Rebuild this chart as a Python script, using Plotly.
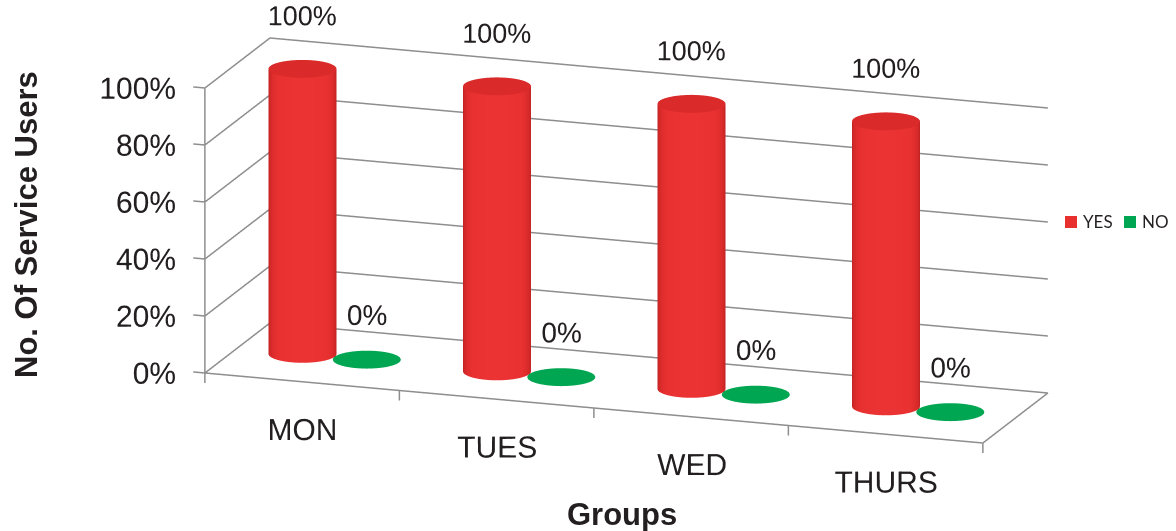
import numpy as np
import plotly.graph_objects as go

# ---- data ----
groups = ["MON", "TUES", "WED", "THURS"]
yes_pct = [100, 100, 100, 100]
no_pct = [0, 0, 0, 0]
series_names = ["YES", "NO"]
series_colors = ["#E8302E", "#00A651"]
z_ticks = [0, 20, 40, 60, 80, 100]
z_tick_text = ["0%", "20%", "40%", "60%", "80%", "100%"]

# ---- chart box (data units) ----
n = len(groups)
x_lo, x_hi = -0.5, n - 0.5
y_lo, y_hi = 0.0, 1.0
z_lo, z_hi = 0.0, 100.0
# normalised size of the chart box (orthographic: 265.5 px per unit)
box_len = dict(x=3.0968, y=0.7565, z=1.1126)
PX = 265.5

# scene ranges are padded so labels and edges are not clipped
rng = dict(x=(x_lo - 0.5, x_hi + 0.1), y=(y_lo - 0.05, y_hi + 0.05),
           z=(z_lo - 25, z_hi + 30))
span = dict(x=x_hi - x_lo, y=y_hi - y_lo, z=z_hi - z_lo)
aspect = {k: box_len[k] * (rng[k][1] - rng[k][0]) / span[k] for k in "xyz"}


def to_norm(k, v):
    lo, hi = rng[k]
    return (v - (lo + hi) / 2) / (hi - lo) * aspect[k]


radius_norm = 0.128
rx = radius_norm * span["x"] / box_len["x"]
ry = radius_norm * span["y"] / box_len["y"]
series_offset = [-rx, rx]
depth = 0.5

# screen axes in normalised scene space
r1 = np.array([0.94624, 0.32361, 0.0])
r2 = np.array([-0.08514, 0.24893, 0.96479])
view_dir = np.cross(r1, r2)
view_dir /= np.linalg.norm(view_dir)

GRID = "#8E8E8E"
TXT = "#231F20"
FONT = "Liberation Sans, Arial, sans-serif"

fig = go.Figure()

# back wall + left wall gridlines
gx, gy, gz = [], [], []
for t in z_ticks:
    gx += [x_lo, x_lo, x_hi, None]
    gy += [y_lo, y_hi, y_hi, None]
    gz += [t, t, t, None]
# floor outline and left wall front edge
gx += [x_lo, x_lo, None, x_lo, x_hi, x_hi, None]
gy += [y_lo, y_lo, None, y_lo, y_lo, y_hi, None]
gz += [z_lo, z_hi, None, z_lo, z_lo, z_lo, None]
# value-axis tick marks
for t in z_ticks:
    gx += [x_lo - 0.06, x_lo, None]
    gy += [y_lo, y_lo, None]
    gz += [t, t, None]
# category boundary tick marks
for b in np.arange(x_lo, x_hi + 0.01, 1.0):
    gx += [b, b, None]
    gy += [y_lo, y_lo, None]
    gz += [z_lo, z_lo - 3.5, None]
fig.add_trace(go.Scatter3d(x=gx, y=gy, z=gz, mode="lines",
                           line=dict(color=GRID, width=3),
                           hoverinfo="skip", showlegend=False))

theta = np.linspace(0, 2 * np.pi, 90)
rr = np.linspace(0, 1, 2)
flat_light = dict(ambient=1.0, diffuse=0.0, specular=0.0, roughness=1.0,
                  fresnel=0.0)
# side shading: how much each facet faces the viewer
hdir = view_dir[:2] / np.linalg.norm(view_dir[:2])
facing = np.clip(np.cos(theta) * hdir[0] + np.sin(theta) * hdir[1], 0, 1)
side_scale = [[0, "#B41F1F"], [0.3, "#D22828"], [0.65, "#E73030"],
              [1, "#EC3333"]]
cap_colors = ["#DA2A2A", series_colors[1]]

for s_idx, vals in enumerate([yes_pct, no_pct]):
    for i, v in enumerate(vals):
        xc = i + series_offset[s_idx]
        if v > 0:
            hz = np.array([z_lo, v])
            TH, HZ = np.meshgrid(theta, hz)
            SC = np.tile(facing, (len(hz), 1))
            fig.add_trace(go.Surface(
                x=xc + rx * np.cos(TH), y=depth + ry * np.sin(TH), z=HZ,
                surfacecolor=SC, colorscale=side_scale, cmin=0, cmax=1,
                showscale=False, hoverinfo="skip", lighting=flat_light))
        R, TH = np.meshgrid(rr, theta)
        c = cap_colors[s_idx]
        fig.add_trace(go.Surface(
            x=xc + rx * R * np.cos(TH), y=depth + ry * R * np.sin(TH),
            z=np.full_like(R, float(v)),
            surfacecolor=np.zeros_like(R), colorscale=[[0, c], [1, c]],
            cmin=0, cmax=1, showscale=False, hoverinfo="skip",
            lighting=flat_light))

# data labels
fig.add_trace(go.Scatter3d(
    x=[i + series_offset[0] for i in range(n)], y=[depth] * n,
    z=[v + 18.7 for v in yes_pct], mode="text",
    text=[f"{v}%" for v in yes_pct], textposition="middle center",
    textfont=dict(size=27, color=TXT, family=FONT),
    hoverinfo="skip", showlegend=False))
fig.add_trace(go.Scatter3d(
    x=[i + series_offset[1] for i in range(n)], y=[depth] * n,
    z=[v + 15.7 for v in no_pct], mode="text",
    text=[f"{v}%" for v in no_pct], textposition="middle center",
    textfont=dict(size=28, color=TXT, family=FONT),
    hoverinfo="skip", showlegend=False))

# value-axis labels
fig.add_trace(go.Scatter3d(
    x=[x_lo] * len(z_ticks), y=[y_lo] * len(z_ticks), z=z_ticks,
    mode="text", text=z_tick_text, textposition="middle left",
    textfont=dict(size=30, color=TXT, family=FONT),
    hoverinfo="skip", showlegend=False))

# category labels
fig.add_trace(go.Scatter3d(
    x=list(range(n)), y=[y_lo] * n, z=[z_lo - 16.7] * n,
    mode="text", text=groups, textposition="middle center",
    textfont=dict(size=30, color=TXT, family=FONT),
    hoverinfo="skip", showlegend=False))

# camera: chart box centre sits at (626.4, 240.5) px, viewport centre (588, 265.5)
box_mid = np.array([to_norm("x", (x_lo + x_hi) / 2),
                    to_norm("y", (y_lo + y_hi) / 2),
                    to_norm("z", (z_lo + z_hi) / 2)])
cen = box_mid + (588 - 626.4) / PX * r1 - (265.5 - 240.5) / PX * r2
eye = cen + 2.5 * view_dir

hidden = dict(visible=False, showspikes=False)
fig.update_layout(
    width=1176, height=531,
    margin=dict(l=0, r=0, t=0, b=0),
    paper_bgcolor="white",
    showlegend=False,
    scene=dict(
        domain=dict(x=[0, 1], y=[0, 1]),
        xaxis=dict(range=list(rng["x"]), **hidden),
        yaxis=dict(range=list(rng["y"]), **hidden),
        zaxis=dict(range=list(rng["z"]), **hidden),
        aspectmode="manual",
        aspectratio=aspect,
        camera=dict(
            projection=dict(type="orthographic"),
            up=dict(x=0, y=0, z=1),
            center=dict(x=cen[0], y=cen[1], z=cen[2]),
            eye=dict(x=eye[0], y=eye[1], z=eye[2]),
        ),
        bgcolor="white",
    ),
    annotations=[
        dict(text="<b>No. Of Service Users</b>", textangle=-90,
             x=26 / 1176, y=1 - 225 / 531, xref="paper", yref="paper",
             xanchor="center", yanchor="middle",
             showarrow=False, font=dict(size=31, color=TXT, family=FONT)),
        dict(text="<b>Groups</b>", x=622 / 1176, y=1 - 514 / 531,
             xref="paper", yref="paper", xanchor="center", yanchor="middle",
             showarrow=False, font=dict(size=31, color=TXT, family=FONT)),
    ],
)

# legend swatches and labels
leg_items = [(1065, series_names[0], series_colors[0]),
             (1124, series_names[1], series_colors[1])]
for x0, name, color in leg_items:
    fig.add_shape(type="rect", xref="paper", yref="paper",
                  x0=x0 / 1176, x1=(x0 + 12) / 1176,
                  y0=1 - 228 / 531, y1=1 - 216 / 531,
                  fillcolor=color, line=dict(width=0))
    fig.add_annotation(text=name, x=(x0 + 16) / 1176, y=1 - 222 / 531,
                       xref="paper", yref="paper", xanchor="left",
                       yanchor="middle", showarrow=False,
                       font=dict(size=17, color=TXT,
                                 family="Lato, Open Sans, sans-serif"))

fig.write_html("out.html")
